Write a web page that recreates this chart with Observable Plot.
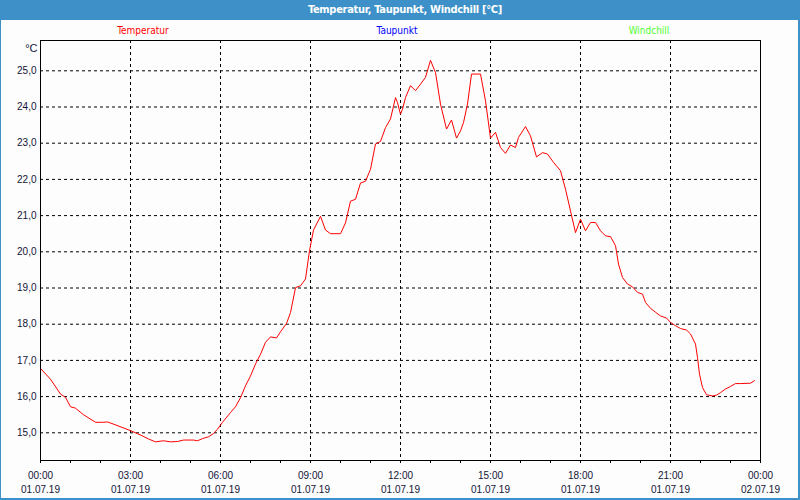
<!DOCTYPE html>
<html>
<head>
<meta charset="utf-8">
<script src="https://cdn.jsdelivr.net/npm/d3@7"></script>
<script src="https://cdn.jsdelivr.net/npm/@observablehq/plot@0.6"></script>
<style>
  html, body { margin: 0; padding: 0; background: #3d91c8; }
  #win { position: relative; width: 800px; height: 500px; background: #3d91c8; overflow: hidden; }
  #title { position: absolute; left: 0; top: 3px; width: 800px; height: 17px; line-height: 14px; text-align: center;
           color: #ffffff; font: bold 11px "Liberation Sans Narrow", "DejaVu Sans Condensed", "Liberation Sans", sans-serif; letter-spacing: -0.3px; padding-left: 10px; box-sizing: border-box; }
  #inner { position: absolute; left: 1px; top: 20px; width: 797px; height: 478px; background: #fcfdfc; }
  #legend { position: absolute; left: 0; top: 0; width: 797px; height: 18px; }
  #legend span { position: absolute; top: 2px; transform: translateX(-50%); font: 10px "Liberation Sans Narrow", "DejaVu Sans Condensed", "Liberation Sans", sans-serif; line-height: 18px; white-space: nowrap; }
  #chart { position: absolute; left: 0; top: 18px; }
</style>
</head>
<body>
<div id="win">
  <div id="title">Temperatur, Taupunkt, Windchill [°C]</div>
  <div id="inner">
    <div id="legend"></div>
    <div id="chart"></div>
  </div>
</div>
<script>
// ---- data ----
const minutes = [0, 20, 40, 50, 60, 70, 86, 110, 124, 134, 146, 180, 200, 216, 230, 246, 260, 274, 286, 306, 314, 324, 336, 346, 354, 364, 380, 390, 400, 410, 420, 430, 440, 450, 460, 472, 480, 492, 500, 510, 520, 530, 538, 546, 560, 570, 580, 600, 610, 620, 630, 640, 650, 660, 670, 680, 690, 700, 710, 714, 720, 724, 730, 740, 750, 760, 770, 780, 790, 800, 812, 822, 832, 840, 846, 854, 862, 880, 890, 900, 910, 920, 930, 940, 950, 956, 970, 980, 992, 1004, 1014, 1026, 1040, 1050, 1060, 1070, 1080, 1090, 1100, 1110, 1120, 1130, 1140, 1150, 1156, 1164, 1174, 1184, 1194, 1204, 1210, 1220, 1230, 1240, 1252, 1260, 1270, 1280, 1292, 1300, 1310, 1314, 1318, 1324, 1332, 1344, 1352, 1360, 1370, 1380, 1390, 1400, 1420, 1428];
const temperature = [16.78, 16.48, 16.07, 15.98, 15.72, 15.68, 15.50, 15.29, 15.29, 15.30, 15.24, 15.06, 14.94, 14.83, 14.75, 14.78, 14.75, 14.76, 14.80, 14.80, 14.78, 14.84, 14.89, 14.98, 15.10, 15.29, 15.56, 15.72, 15.97, 16.30, 16.57, 16.90, 17.17, 17.50, 17.65, 17.62, 17.79, 18.02, 18.32, 19.01, 19.06, 19.25, 20.03, 20.60, 20.98, 20.60, 20.50, 20.50, 20.80, 21.40, 21.45, 21.90, 21.95, 22.28, 22.98, 23.05, 23.43, 23.67, 24.26, 24.12, 23.80, 23.94, 24.26, 24.59, 24.45, 24.63, 24.82, 25.29, 24.95, 24.08, 23.39, 23.64, 23.14, 23.34, 23.57, 24.08, 24.91, 24.91, 24.17, 23.14, 23.30, 22.88, 22.72, 22.95, 22.88, 23.16, 23.46, 23.20, 22.62, 22.74, 22.70, 22.47, 22.24, 21.73, 21.13, 20.53, 20.90, 20.58, 20.81, 20.81, 20.58, 20.44, 20.42, 20.17, 19.66, 19.29, 19.11, 19.03, 18.88, 18.83, 18.60, 18.44, 18.33, 18.23, 18.17, 18.05, 17.96, 17.88, 17.84, 17.73, 17.45, 17.08, 16.62, 16.25, 16.05, 16.02, 16.04, 16.11, 16.21, 16.28, 16.36, 16.36, 16.37, 16.44];

const xTickMinutes = [0, 180, 360, 540, 720, 900, 1080, 1260, 1440];
const xTickTimes = ["00:00", "03:00", "06:00", "09:00", "12:00", "15:00", "18:00", "21:00", "00:00"];
const xTickDates = ["01.07.19", "01.07.19", "01.07.19", "01.07.19", "01.07.19", "01.07.19", "01.07.19", "01.07.19", "02.07.19"];
const hourTicks = [0, 60, 120, 180, 240, 300, 360, 420, 480, 540, 600, 660, 720, 780, 840, 900, 960, 1020, 1080, 1140, 1200, 1260, 1320, 1380, 1440];
const yTicks = [15, 16, 17, 18, 19, 20, 21, 22, 23, 24, 25];
const yUnit = "°C";
const legendLabels = ["Temperatur", "Taupunkt", "Windchill"];
const legendColors = ["#ff0000", "#0000ff", "#55ff33"];
const legendCenters = [143, 397, 649];

// ---- legend (HTML) ----
const legend = document.getElementById("legend");
legendLabels.forEach((t, i) => {
  const s = document.createElement("span");
  s.textContent = t;
  s.style.left = (legendCenters[i] - 1) + "px";
  s.style.color = legendColors[i];
  legend.appendChild(s);
});

// ---- chart ----
const data = minutes.map((m, i) => ({minute: m, temp: temperature[i]}));
const labelMap = new Map(xTickMinutes.map((m, i) => [m, xTickTimes[i] + "\n" + xTickDates[i]]));
const textColor = "#141438";
const font = "'Liberation Sans', sans-serif";

const chart = Plot.plot({
  width: 797,
  height: 460,
  marginLeft: 39,
  marginRight: 38,
  marginTop: 2,
  marginBottom: 38,
  style: {background: "transparent", fontFamily: font, color: textColor},
  x: {domain: [0, 1440], label: null},
  y: {domain: [14.235, 25.837], label: null},
  marks: [
    Plot.gridY(yTicks, {stroke: "black", strokeOpacity: 1, strokeDasharray: "3,3"}),
    Plot.gridX(xTickMinutes.slice(1, -1), {stroke: "black", strokeOpacity: 1, strokeDasharray: "3,3"}),
    Plot.axisY(yTicks, {tickSize: 0, tickPadding: 4, fontSize: 10, fill: textColor, tickFormat: d => d.toFixed(1).replace(".", ","), label: null}),
    Plot.axisX(hourTicks, {tickSize: 3, stroke: "black", tickFormat: () => "", label: null}),
    Plot.axisX(xTickMinutes, {tickSize: 0, tickPadding: 8, fontSize: 10, lineHeight: 1.45, fill: textColor, tickFormat: d => labelMap.get(d), label: null}),
    Plot.text([yUnit], {frameAnchor: "top-left", dx: -3, dy: 4, textAnchor: "end", fontSize: 11, fill: textColor}),
    Plot.line(data, {x: "minute", y: "temp", stroke: "#ff0000", strokeWidth: 1}),
    Plot.frame({stroke: "black"})
  ]
});
document.getElementById("chart").appendChild(chart);
</script>
</body>
</html>
